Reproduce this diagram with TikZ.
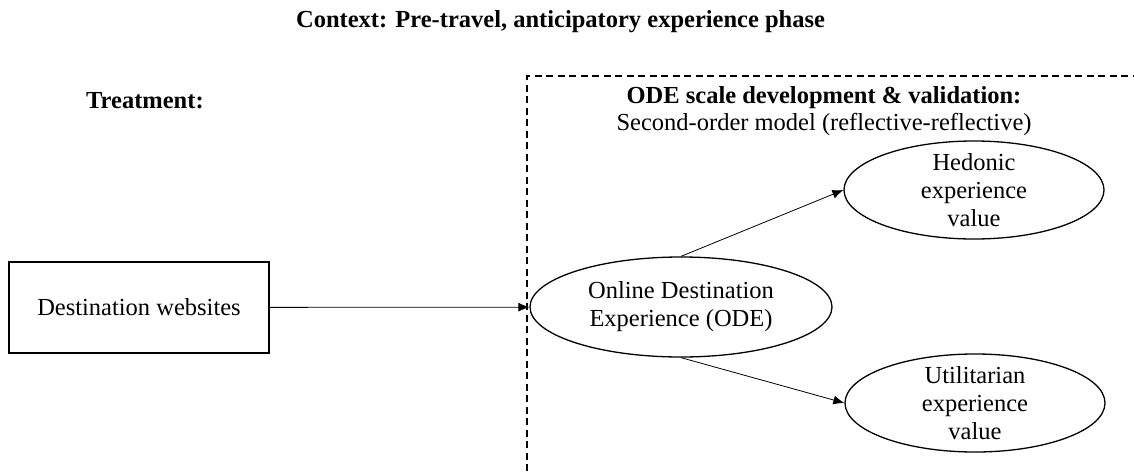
\documentclass[tikz,border=0pt]{standalone}
\usepackage{fontspec}
\setmainfont{Liberation Serif}
\usetikzlibrary{shapes.geometric,arrows.meta}
\begin{document}
\begin{tikzpicture}[x=1pt,y=-1pt,
  txt/.style={font=\fontsize{24.5}{28}\selectfont, align=center, inner sep=0pt},
  btxt/.style={font=\fontsize{24.5}{28}\selectfont\bfseries, align=center, inner sep=0pt},
  oval/.style={ellipse, draw, line width=1.3pt, inner sep=0pt},
  rbox/.style={draw, line width=1.5pt, inner sep=0pt},
  arr/.style={line width=0.8pt, -{Latex[length=11pt,width=9pt]}},
  frame/.style={line width=1.3pt, dash pattern=on 7pt off 4.5pt}
]
\useasboundingbox (0,0) rectangle (1134,471);
\node[btxt] (title) at (560.5,22) {Context: Pre-travel, anticipatory experience phase};
\node[btxt, anchor=west] (treat) at (86,101) {Treatment:};
\coordinate (fbl) at (527,471);
\coordinate (ftl) at (527,76);
\coordinate (ftr) at (1134,76);
\draw[frame] (fbl) -- (ftl) -- (ftr);
\node[btxt] (head) at (824,98) {ODE scale development \& validation:};
\node[txt] (sub) at (824,124) {Second-order model (reflective-reflective)};
\node[rbox, minimum width=260, minimum height=91] (web) at (139,307.5) {};
\node[txt] (webt) at (web) {Destination websites};
\node[oval, minimum width=302, minimum height=100] (ode) at (681,307) {};
\node[txt] (odet) at (ode) {Online Destination\\Experience (ODE)};
\node[oval, minimum width=260, minimum height=98] (hed) at (974,190) {};
\node[txt] (hedt) at (hed) {Hedonic\\experience\\value};
\node[oval, minimum width=260, minimum height=98] (uti) at (975,403) {};
\node[txt] (utit) at (uti) {Utilitarian\\experience\\value};
\draw[arr] (web) -- (ode);
\draw[arr] (ode.north) -- (hed.west);
\draw[arr] (ode.south) -- (uti.west);
\end{tikzpicture}
\end{document}
